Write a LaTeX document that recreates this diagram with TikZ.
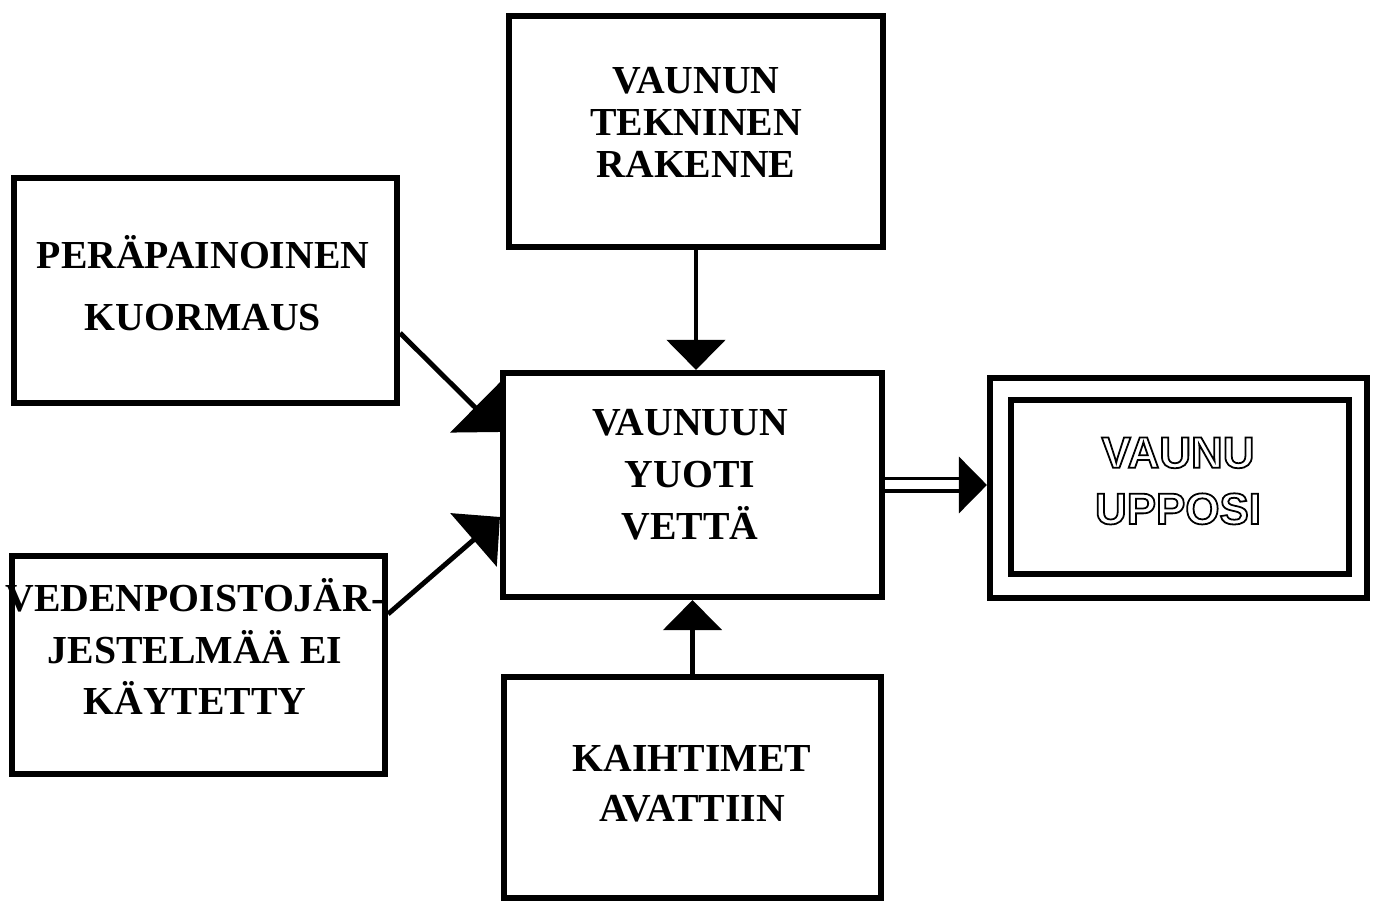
\documentclass[tikz,border=0pt]{standalone}
\usepackage{fontspec}
\setmainfont{Liberation Serif}
\newfontfamily\outlinefont{Liberation Sans}
\usetikzlibrary{arrows.meta,positioning}
% hollow letters (stroke only)
\newcommand\hollow[1]{\special{pdf:literal 1 Tr 0.5 w}#1\special{pdf:literal 0 Tr}}
\tikzset{
  box/.style={draw,line width=1.6pt,inner sep=0pt},
  txt/.style={align=center,inner sep=0pt,font=\bfseries},
  arr/.style={line width=1.4pt,-{Triangle[length=3mm,width=5.8mm]}},
  slant/.style={arr,-{Triangle[length=3.5mm,width=7mm]}},
  dbl/.style={double,double distance=0.9mm,line width=1pt,-{Triangle[length=2.8mm,width=5.6mm]}}}

\begin{document}
\begin{tikzpicture}
\useasboundingbox(0,0)rectangle(13.78,9.01);
% boxes
\node[box,minimum width=3.745cm,minimum height=2.315cm](tekn)at(6.96,7.695){};
\node[box,minimum width=3.835cm,minimum height=2.255cm](kuorm)at(2.055,6.105){};
\node[box,minimum width=3.795cm,minimum height=2.245cm](vuoti)at(6.925,4.16){};
\node[box,minimum width=3.735cm,minimum height=2.185cm](vedenp)at(1.985,2.36){};
\node[box,minimum width=3.775cm,minimum height=2.215cm](kaiht)at(6.925,1.135){};
\node[box,minimum width=3.775cm,minimum height=2.205cm](uppo)at(11.785,4.13){};
\node[box,minimum width=3.385cm,minimum height=1.745cm](uppoin)at(11.80,4.14){};
% texts
\node[txt,font=\bfseries\fontsize{11.3}{12}\selectfont](ttekn)at(6.96,7.785){VAUNUN\\TEKNINEN\\RAKENNE};
\node[txt,font=\bfseries\fontsize{11.3}{17.6}\selectfont](tkuorm)at(2.03,6.175){PERÄPAINOINEN\\KUORMAUS};
\node[txt,font=\bfseries\fontsize{11.3}{14.8}\selectfont](tvuoti)at(6.90,4.26){VAUNUUN\\YUOTI\\VETTÄ};
\node[txt,font=\bfseries\fontsize{11.3}{14.6}\selectfont](tvedenp)at(1.95,2.545){VEDENPOISTOJÄR-\\JESTELMÄÄ EI\\KÄYTETTY};
\node[txt,font=\bfseries\fontsize{11.3}{14.2}\selectfont](tkaiht)at(6.92,1.175){KAIHTIMET\\AVATTIIN};
% connectors
\draw[arr](tekn.south)--(tekn.south|-vuoti.north);
\draw[arr](kaiht.north)--(kaiht.north|-vuoti.south);
\draw[slant]([yshift=-4.25mm]kuorm.east)--([yshift=5.3mm]vuoti.west);
\draw[slant]([yshift=5.1mm]vedenp.east)--([yshift=-3.2mm]vuoti.west);
\draw[dbl](vuoti.east)--(vuoti.east-|uppo.west);
\node[txt,font=\outlinefont\bfseries\fontsize{12.5}{16}\selectfont](tuppo)at(11.78,4.20){\hollow{VAUNU}\\\hollow{UPPOSI}};
\end{tikzpicture}
\end{document}
